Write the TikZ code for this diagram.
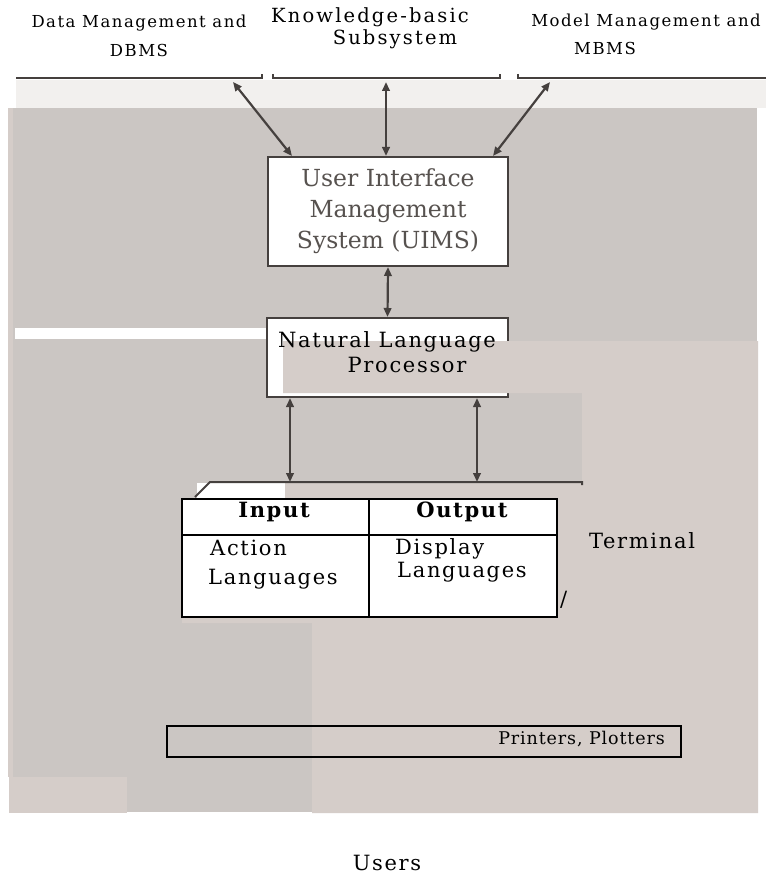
\documentclass[tikz,border=0pt]{standalone}
\usepackage{fontspec}
\setmainfont{DejaVu Serif}
\usetikzlibrary{arrows.meta}

\definecolor{scan}{HTML}{CBC6C3}
\definecolor{patch}{HTML}{D5CDC9}
\definecolor{ink}{HTML}{45403E}
\definecolor{paleink}{HTML}{57524F}
\definecolor{paper}{HTML}{F2F0EE}

% size / letter spacing in one go
\newcommand\lsfont[2]{\fontsize{#1}{#1}\selectfont\addfontfeature{LetterSpace=#2}}

\begin{document}
\begin{tikzpicture}[x=1pt,y=-1pt,
  txt/.style={inner sep=0pt, text=black},
  body/.style={txt, font=\lsfont{21}{8}},
  side/.style={txt, font=\lsfont{16.5}{9}},
  twoway/.style={ink, line width=2.2pt,
    {Triangle[length=9pt,width=7.5pt]}-{Triangle[length=9pt,width=7.5pt]}},
  scanline/.style={ink, line width=2pt},
  tabline/.style={black, line width=2pt}]

\useasboundingbox (0,0) rectangle (766,877);
\fill[white] (0,0) rectangle (766,877);

% scanned backdrop and pasted-over patches
\fill[paper] (16,80) rectangle (766,108);
\fill[scan] (13,108) rectangle (757,812);
\fill[patch] (8,108) rectangle (13,777);
\fill[white] (15,328) rectangle (267,339);

% bottoms of the three subsystem boxes
\draw[scanline] (16,78) -- (262,78) -- (262,74);
\draw[scanline] (273,74) -- (273,78) -- (500,78) -- (500,74);
\draw[scanline] (518,74) -- (518,78) -- (766,78);
\coordinate (dbfoot) at (233,82);
\coordinate (kbfoot) at (386,82);
\coordinate (mbfoot) at (550,82);

% UIMS
\node[draw=ink, line width=2pt, fill=white, minimum width=240pt,
  minimum height=109pt, inner sep=0pt, align=center, text=paleink,
  font={\fontsize{23.5}{31}\selectfont}]
  (uims) at (388,211.5) {User Interface\\Management\\System (UIMS)};

% natural language processor box
\node[draw=ink, line width=2pt, fill=white, minimum width=241pt,
  minimum height=79pt, inner sep=0pt] (nlp) at (387.5,357.5) {};

% flat pasted patch
\fill[patch] (283,341) -- (758,341) -- (758,813) -- (312,813) -- (312,623)
  -- (182,623) -- (182,499) -- (285,499) -- (285,482) -- (582,482)
  -- (582,393) -- (283,393) -- cycle;
\fill[white] (269,358) rectangle (283,393);
\fill[white] (197,483) rectangle (285,499);
\fill[patch] (9,777) rectangle (127,813);

% terminal outline
\draw[scanline] (195,497) -- (210,482) -- (582,482) -- (582,485);
\coordinate (tl) at (290,482);
\coordinate (tr) at (477,482);

% connectors
\draw[twoway] (dbfoot) -- ([xshift=25pt]uims.north west);
\draw[twoway] (kbfoot) -- (kbfoot |- uims.north);
\draw[twoway] (mbfoot) -- ([xshift=-16pt]uims.north east);
\draw[twoway] (uims.south) -- (nlp.north);
\draw[twoway] (tl |- nlp.south) -- (tl);
\draw[twoway] (tr |- nlp.south) -- (tr);

% input / output table
\draw[tabline, fill=white] (182,499) rectangle (557,617);
\draw[tabline] (182,535) -- (557,535);
\draw[tabline] (369,499) -- (369,617);

% printers box
\node[draw=black, line width=2pt, minimum width=514pt, minimum height=31pt,
  inner sep=0pt] (prn) at (424,741.5) {};

% labels
\node[side, anchor=base] (dm1) at (139,28) {Data Management and};
\node[side, anchor=base] (dm2) at (139,57) {DBMS};
\node[body, font=\lsfont{19.5}{11}, anchor=base] (kb1) at (370,23) {Knowledge-basic};
\node[body, font=\lsfont{19.5}{11}, anchor=base] (kb2) at (395,45) {Subsystem};
\node[side, anchor=base] (mm1) at (646,27) {Model Management and};
\node[side, anchor=base] (mm2) at (605,55) {MBMS};

\node[body, anchor=base] (nl1) at (387,347) {Natural Language};
\node[body, anchor=base] (nl2) at (407,372) {Processor};

\node[body, font=\bfseries\lsfont{21}{8}, anchor=base] (hin) at (274,517) {Input};
\node[body, font=\bfseries\lsfont{21}{8}, anchor=base] (hout) at (462,517) {Output};
\node[body, anchor=base west] (in1) at (210,555) {Action};
\node[body, anchor=base west] (in2) at (208,584) {Languages};
\node[body, anchor=base west] (out1) at (395,554) {Display};
\node[body, anchor=base west] (out2) at (397,577) {Languages};

\node[body, anchor=base] (term) at (642,548) {Terminal};
\node[body, anchor=base west] (slash) at (560,606) {/};
\node[txt, font=\lsfont{17.5}{5}, anchor=base east] (prntxt) at (665,744) {Printers, Plotters};
\node[body, anchor=base] (users) at (387,870) {Users};
\end{tikzpicture}
\end{document}
